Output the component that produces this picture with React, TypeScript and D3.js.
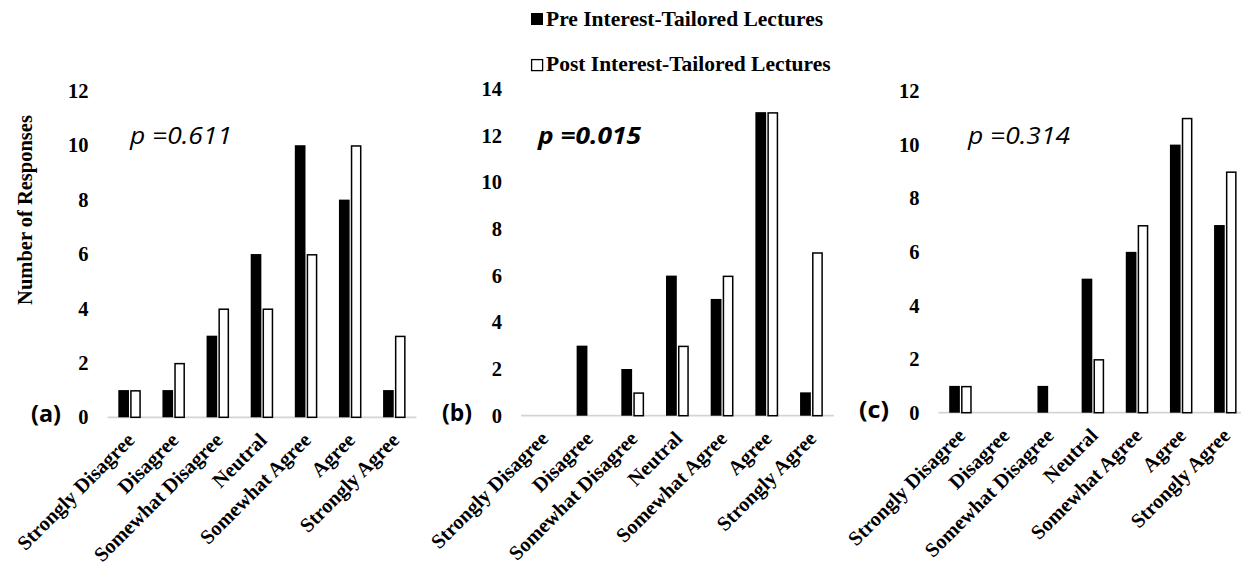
import React from 'react';
import * as d3 from 'd3';

const categories = ['Strongly Disagree', 'Disagree', 'Somewhat Disagree', 'Neutral', 'Somewhat Agree', 'Agree', 'Strongly Agree'];
const preA = [1, 1, 3, 6, 10, 8, 1];
const postA = [1, 2, 4, 4, 6, 10, 3];
const preB = [0, 3, 2, 6, 5, 13, 1];
const postB = [0, 0, 1, 3, 6, 13, 7];
const preC = [1, 0, 1, 5, 6, 10, 7];
const postC = [1, 0, 0, 2, 7, 11, 9];
const ticksA = [0, 2, 4, 6, 8, 10, 12];
const ticksB = [0, 2, 4, 6, 8, 10, 12, 14];
const ticksC = [0, 2, 4, 6, 8, 10, 12];
const pLabels = ['p =0.611', 'p =0.015', 'p =0.314'];
const panelLabels = ['(a)', '(b)', '(c)'];
const seriesNames = ['Pre Interest-Tailored Lectures', 'Post Interest-Tailored Lectures'];
const yTitle = 'Number of Responses';

const SERIF = '"Liberation Serif", "Times New Roman", serif';
const SANS = '"Open Sans", "Noto Sans", sans-serif';

const panels = [
  { pre: preA, post: postA, ticks: ticksA, x0: 107.5, x1: 416.4, base: 417.3, top: 90.8, pX: 130, pBold: false, labX: 31 },
  { pre: preB, post: postB, ticks: ticksB, x0: 521, x1: 833.8, base: 415.7, top: 88.8, pX: 538, pBold: true, labX: 442 },
  { pre: preC, post: postC, ticks: ticksC, x0: 938.4, x1: 1247.4, base: 412.7, top: 91, pX: 968, pBold: false, labX: 859 },
];

function Panel({ cfg, idx }: { cfg: any; idx: number }) {
  const yMax = cfg.ticks[cfg.ticks.length - 1];
  const x = d3.scaleBand<string>().domain(categories).range([cfg.x0, cfg.x1]).paddingInner(0.49).paddingOuter(0.245);
  const xs = d3.scaleBand<string>().domain(['pre', 'post']).range([0, x.bandwidth()]).paddingInner(0.1);
  const y = d3.scaleLinear().domain([0, yMax]).range([cfg.base, cfg.top]);
  const bw = xs.bandwidth();
  return (
    <g>
      {cfg.ticks.map((t: number) => (
        <text key={t} x={cfg.x0 - 19} y={y(t)} dy="0.35em" textAnchor="end" fontFamily={SERIF} fontWeight="bold" fontSize={20.5} fill="#000">{t}</text>
      ))}
      <line x1={cfg.x0} x2={cfg.x1} y1={cfg.base} y2={cfg.base} stroke="#d4d4d4" strokeWidth={1.8} />
      {categories.map((c, i) => {
        const gx = x(c)!;
        const vPre = cfg.pre[i];
        const vPost = cfg.post[i];
        return (
          <g key={c}>
            {vPre > 0 && (
              <rect x={gx + xs('pre')!} y={y(vPre)} width={bw} height={cfg.base - y(vPre)} fill="#000" />
            )}
            {vPost > 0 && (
              <rect x={gx + xs('post')! + 0.75} y={y(vPost) + 0.75} width={bw - 1.5} height={cfg.base - y(vPost) - 0.75} fill="#fff" stroke="#000" strokeWidth={1.5} />
            )}
            <text
              transform={`translate(${gx + x.bandwidth() / 2 + 1},${cfg.base + 19}) rotate(-45)`}
              textAnchor="end" dy="0.35em" fontFamily={SERIF} fontWeight="bold" fontSize={20.5} fill="#000">{c}</text>
          </g>
        );
      })}
      <text x={cfg.pX} y={144} fontFamily={SANS} fontStyle="italic" fontWeight={cfg.pBold ? 'bold' : 'normal'} fontSize={24} textLength={cfg.pBold ? 103 : 102} lengthAdjust="spacingAndGlyphs" fill="#000">{pLabels[idx]}</text>
      <text x={cfg.labX} y={cfg.base - 3} dy="0.35em" fontFamily={SANS} fontWeight="bold" fontSize={23} textLength={30} lengthAdjust="spacingAndGlyphs" fill="#000">{panelLabels[idx]}</text>
    </g>
  );
}

export default function App() {
  return (
    <svg width={1241} height={569} style={{ position: 'absolute', left: 0, top: 0, background: '#fff' }}>
      <rect x={0} y={0} width={1241} height={569} fill="#fff" />
      {panels.map((p, i) => <Panel key={i} cfg={p} idx={i} />)}
      <text transform="translate(32,210) rotate(-90)" textAnchor="middle" fontFamily={SERIF} fontWeight="bold" fontSize={20.5} fill="#000">{yTitle}</text>
      <rect x={531} y={13} width={12} height={12} fill="#000" />
      <text x={546} y={26} fontFamily={SERIF} fontWeight="bold" fontSize={21.5} fill="#000">{seriesNames[0]}</text>
      <rect x={531.6} y={59.6} width={11} height={11} fill="#fff" stroke="#000" strokeWidth={1.3} />
      <text x={546} y={71} fontFamily={SERIF} fontWeight="bold" fontSize={21.5} fill="#000">{seriesNames[1]}</text>
    </svg>
  );
}
